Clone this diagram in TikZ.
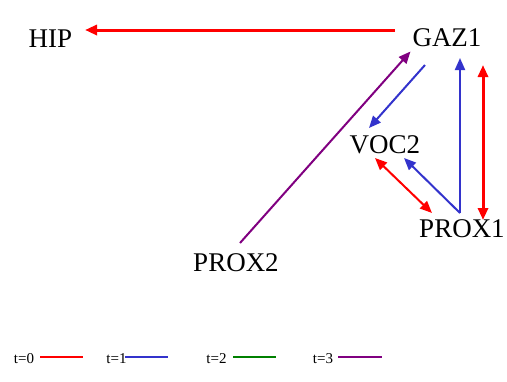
\documentclass[tikz,border=0pt]{standalone}
\usepackage{fontspec}
\setmainfont{Liberation Serif}
\usetikzlibrary{arrows.meta,calc}
\definecolor{cred}{HTML}{FF0000}
\definecolor{cblue}{HTML}{3333CC}
\definecolor{cgreen}{HTML}{008000}
\definecolor{cpurple}{HTML}{800080}
\tikzset{
  lbl/.style={inner sep=0pt, font=\fontsize{27}{30}\selectfont},
  leg/.style={inner sep=0pt, font=\fontsize{15}{17}\selectfont},
  tip/.style={-{Triangle[length=12pt,width=10pt]}},
  dtip/.style={{Triangle[length=12pt,width=10pt]}-{Triangle[length=12pt,width=10pt]}},
  redline/.style={draw=cred, line width=3pt},
  blueline/.style={draw=cblue, line width=2pt},
  purpleline/.style={draw=cpurple, line width=2pt},
  greenline/.style={draw=cgreen, line width=2pt},
}
\begin{document}
\begin{tikzpicture}[x=1pt,y=-1pt]
\useasboundingbox (0,0) rectangle (507,381);
\node[lbl] (HIP) at (50.5,39) {HIP};
\node[lbl] (GAZ1) at (447,37.5) {GAZ1};
\node[lbl] (VOC2) at (385,144.5) {VOC2};
\node[lbl] (PROX1) at (462,229) {PROX1};
\node[lbl] (PROX2) at (236,263) {PROX2};
% connectors
\draw[redline,tip,fill=cred] ($(GAZ1)+(-52,-7.5)$) -- ($(HIP)+(34.5,-9)$);
\draw[purpleline,tip,fill=cpurple] ($(PROX2)+(4,-20)$) -- ($(GAZ1)+(-36.5,14)$);
\draw[blueline,tip,fill=cblue] ($(GAZ1)+(-22,27.5)$) -- ($(VOC2)+(-16,-16.5)$);
\draw[blueline,tip,fill=cblue] ($(PROX1)+(-2,-16)$) -- ($(GAZ1)+(13,20.5)$);
\draw[blueline,tip,fill=cblue] ($(PROX1)+(-2,-16)$) -- ($(VOC2)+(19,13.5)$);
\draw[redline,line width=2pt,dtip,fill=cred] ($(VOC2)+(-10,13.5)$) -- ($(PROX1)+(-30,-16)$);
\draw[redline,dtip,fill=cred] ($(GAZ1)+(36,27.5)$) -- ($(PROX1)+(21,-9)$);
% legend
\node[leg] (L0) at (24,358.5) {t=0};
\node[leg] (L1) at (116.5,358.5) {t=1};
\node[leg] (L2) at (216.5,358.5) {t=2};
\node[leg] (L3) at (323,358.5) {t=3};
\draw[draw=cred,line width=2pt] (40,356.7) -- (83,356.7);
\draw[blueline] (125,356.7) -- (168,356.7);
\draw[greenline] (233,356.7) -- (276,356.7);
\draw[purpleline] (338,356.7) -- (382,356.7);
\end{tikzpicture}
\end{document}
